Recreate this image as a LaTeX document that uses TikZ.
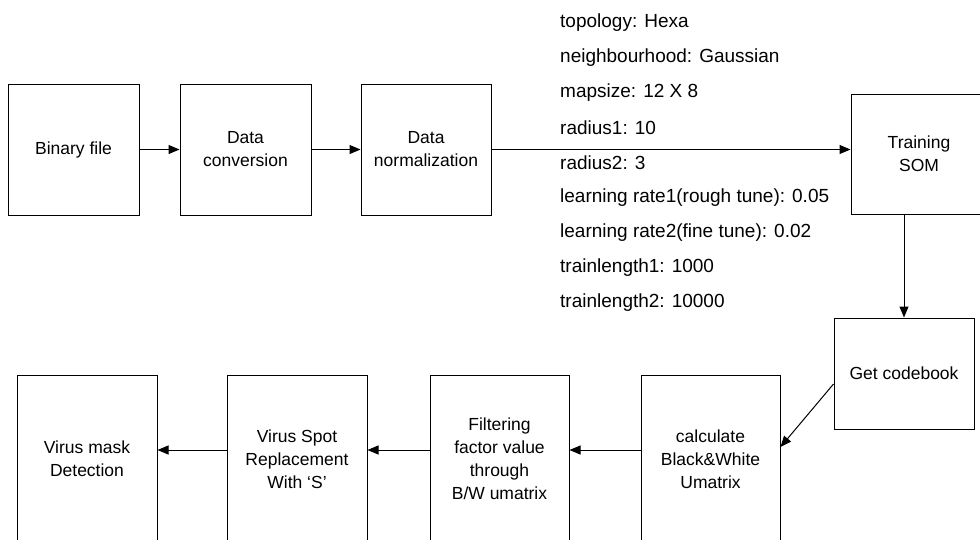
\documentclass[tikz,border=0pt]{standalone}
\usepackage{fontspec}
\setmainfont{Liberation Sans}
\usetikzlibrary{arrows.meta}

\begin{document}
\begin{tikzpicture}
[x=1pt,y=-1pt,
box/.style={draw=black,line width=1pt,align=center,inner sep=0pt,font=\fontsize{17.5}{23}\selectfont},
arr/.style={-{Triangle[length=11pt,width=9pt]},line width=1pt},
par/.style={anchor=west,inner sep=0pt,font=\fontsize{19}{22}\selectfont}]
\clip (0,0) rectangle (980,539);
%%%%% UPPER ROW
\node[box,minimum width=131,minimum height=131] (binfile) at (73.5,149.5) {Binary file};
\node[box,minimum width=131,minimum height=131] (conv) at (245.5,149.5) {Data\\conversion};
\node[box,minimum width=130,minimum height=131] (norm) at (426,149.5) {Data\\normalization};
\node[box,minimum width=136,minimum height=120] (som) at (919,154) {Training\\SOM};
\path[arr,draw] (binfile) edge (conv);
\path[arr,draw] (conv) edge (norm);
\draw[arr] (norm.east) -- (norm.east -| som.west);
%%%%% SOM PARAMETERS
\foreach \t [count=\i from 0] in {topology: Hexa,neighbourhood: Gaussian,mapsize: 12 X 8,radius1: 10,radius2: 3,learning rate1(rough tune): 0.05,learning rate2(fine tune): 0.02,trainlength1: 1000,trainlength2: 10000}
{
	\node[par] (param\i) at (560,{23+35*\i}) {\t};
};
%%%%% LOWER ROW
\node[box,minimum width=140,minimum height=111] (code) at (904,373.5) {Get codebook};
\node[box,minimum width=139,minimum height=168] (calc) at (710.5,459) {calculate\\Black\&White\\Umatrix};
\node[box,minimum width=139,minimum height=168] (filt) at (499.5,459) {Filtering\\factor value\\through\\B/W umatrix};
\node[box,minimum width=140,minimum height=168] (spot) at (297,459) {Virus Spot\\Replacement\\With ‘S’};
\node[box,minimum width=140,minimum height=168] (mask) at (87,459) {Virus mask\\Detection};
\draw[arr] (som.south -| code.north) -- (code.north);
\draw[arr] ([yshift=-10.5pt]code.west) -- ([yshift=12pt]calc.east);
\draw[arr] ([yshift=9pt]calc.west) -- ([yshift=9pt]filt.east);
\draw[arr] ([yshift=9pt]filt.west) -- ([yshift=9pt]spot.east);
\draw[arr] ([yshift=9pt]spot.west) -- ([yshift=9pt]mask.east);
\end{tikzpicture}
\end{document}
